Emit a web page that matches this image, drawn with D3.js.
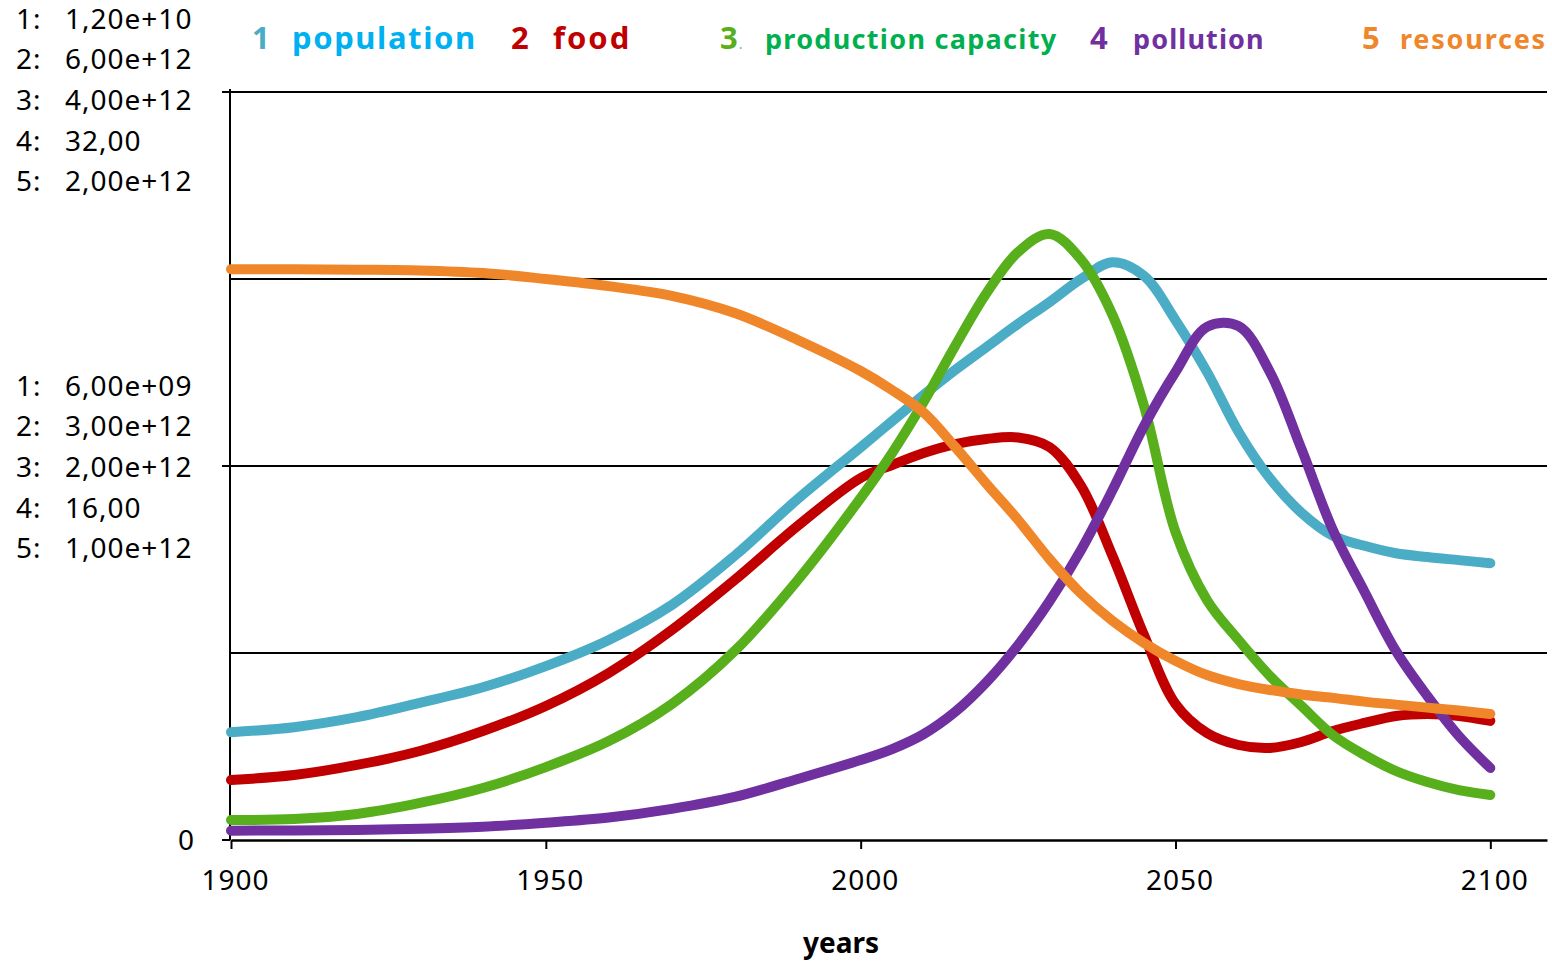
<!DOCTYPE html>
<html>
<head>
<meta charset="utf-8">
<script src="https://cdn.jsdelivr.net/npm/d3@7"></script>
<style>
  body { margin: 0; background: #fff; }
  svg { display: block; }
  text { font-family: "Noto Sans", sans-serif; }
</style>
</head>
<body>
<svg id="chart" width="1552" height="962"></svg>
<script>
// Simulation output, 1900–2100
const years = [1900,1910,1920,1930,1940,1950,1960,1970,1980,1990,2000,
  2005,2010,2015,2020,2025,2030,2035,2040,2045,2050,
  2055,2060,2065,2070,2075,2080,2085,2090,2095,2100];

// 1: population (persons)
const population = [1.73e9,1.81e9,1.97e9,2.20e9,2.45e9,2.79e9,3.21e9,3.77e9,4.56e9,5.47e9,6.30e9,
  6.72e9,7.14e9,7.54e9,7.91e9,8.28e9,8.63e9,9.00e9,9.27e9,9.05e9,8.34e9,
  7.51e9,6.55e9,5.80e9,5.25e9,4.88e9,4.72e9,4.60e9,4.54e9,4.49e9,4.44e9];
// 2: food
const food = [0.481e12,0.521e12,0.602e12,0.714e12,0.874e12,1.075e12,1.340e12,1.684e12,2.086e12,2.519e12,2.904e12,
  3.008e12,3.104e12,3.176e12,3.217e12,3.229e12,3.152e12,2.840e12,2.278e12,1.644e12,1.091e12,
  0.858e12,0.762e12,0.738e12,0.786e12,0.874e12,0.939e12,0.995e12,1.011e12,0.995e12,0.955e12];
// 3: production capacity
const production = [0.107e12,0.112e12,0.139e12,0.198e12,0.278e12,0.390e12,0.529e12,0.727e12,1.011e12,1.390e12,1.829e12,
  2.070e12,2.342e12,2.642e12,2.925e12,3.144e12,3.241e12,3.104e12,2.807e12,2.321e12,1.647e12,
  1.283e12,1.070e12,0.877e12,0.717e12,0.561e12,0.455e12,0.369e12,0.310e12,0.267e12,0.241e12];
// 4: pollution
const pollution = [0.40,0.41,0.43,0.48,0.57,0.74,0.96,1.33,1.84,2.61,3.42,
  3.89,4.53,5.48,6.76,8.34,10.22,12.41,14.97,17.71,20.02,
  21.95,21.99,20.02,16.73,13.26,10.63,8.09,6.16,4.45,3.08];
// 5: resources
const resources = [1.526e12,1.526e12,1.525e12,1.523e12,1.516e12,1.500e12,1.481e12,1.455e12,1.409e12,1.337e12,1.254e12,
  1.203e12,1.143e12,1.051e12,0.952e12,0.856e12,0.751e12,0.659e12,0.586e12,0.527e12,0.479e12,
  0.441e12,0.417e12,0.401e12,0.389e12,0.380e12,0.370e12,0.362e12,0.354e12,0.346e12,0.337e12];

const seriesNames = ["population", "food", "production capacity", "pollution", "resources"];
const seriesMax = [1.2e10, 6e12, 4e12, 32, 2e12];
const xTickYears = [1900, 1950, 2000, 2050, 2100];
const xLabel = "years";

const seriesValues = [population, food, production, pollution, resources];
const lineColors = ["#4BACC6", "#C00000", "#57AF1C", "#7030A0", "#F0862A"];
const numColors  = ["#4BACC6", "#C00000", "#57AF1C", "#7030A0", "#F0862A"];
const nameColors = ["#00B0F0", "#C00000", "#00B050", "#7030A0", "#F0862A"];

const svg = d3.select("#chart");
const plot = { left: 230, right: 1547, top: 92, bottom: 840 };

const x = d3.scaleLinear().domain([1900, 2109]).range([231, plot.right]);
const yFrac = d3.scaleLinear().domain([0, 1]).range([plot.bottom, plot.top]);
const yScales = seriesMax.map(m => d3.scaleLinear().domain([0, m]).range([plot.bottom, plot.top]));

// horizontal grid lines at quarters
svg.append("g").selectAll("line")
  .data([0.25, 0.5, 0.75, 1])
  .join("line")
  .attr("x1", plot.left).attr("x2", plot.right)
  .attr("y1", d => yFrac(d)).attr("y2", d => yFrac(d))
  .attr("stroke", "#000").attr("stroke-width", 2);

// left axis line with major ticks at 0, 1/2, 1
svg.append("line")
  .attr("x1", plot.left).attr("x2", plot.left)
  .attr("y1", plot.top - 3).attr("y2", plot.bottom)
  .attr("stroke", "#000").attr("stroke-width", 2);
svg.append("g").selectAll("line")
  .data([0, 0.5, 1])
  .join("line")
  .attr("x1", plot.left - 8).attr("x2", plot.left)
  .attr("y1", d => yFrac(d)).attr("y2", d => yFrac(d))
  .attr("stroke", "#000").attr("stroke-width", 2);

// bottom axis
const xAxis = d3.axisBottom(x).tickValues(xTickYears).tickSize(9).tickSizeOuter(0).tickFormat(d3.format("d"));
const gx = svg.append("g").attr("transform", `translate(0,${plot.bottom})`).call(xAxis);
gx.select(".domain").attr("stroke", "#000").attr("stroke-width", 2.5);
gx.selectAll(".tick line").attr("stroke", "#000").attr("stroke-width", 2);
gx.selectAll(".tick text")
  .attr("y", 50).attr("dy", 0).attr("dx", 4)
  .attr("fill", "#000")
  .style("font-family", "'Noto Sans', sans-serif")
  .style("font-size", "28px")
  .style("letter-spacing", "1px");

svg.append("text")
  .attr("x", 841).attr("y", 953)
  .attr("text-anchor", "middle")
  .style("font-size", "28px").style("font-weight", 700)
  .text(xLabel);

// left value labels: one block per major tick
function fmtVal(v) {
  if (Math.abs(v) < 1000) return d3.format(".2f")(v).replace(".", ",");
  const [m, e] = d3.format(".2e")(v).split("e");
  const sign = e[0];
  const exp = e.slice(1).padStart(2, "0");
  return m.replace(".", ",") + "e" + sign + exp;
}
const blockShift = { 1: 8, 0.5: 1 };
[1, 0.5].forEach(frac => {
  const yc = yFrac(frac) + blockShift[frac];
  seriesMax.forEach((m, i) => {
    const yy = yc + (i - 2) * 40.6 + 10;
    const t = svg.append("text").attr("y", yy)
      .style("font-size", "28px").style("letter-spacing", "1px").attr("fill", "#000");
    t.append("tspan").attr("x", 16).text(`${i + 1}:`);
    t.append("tspan").attr("x", 65).text(fmtVal(m * frac));
  });
});
svg.append("text")
  .attr("x", 186).attr("y", yFrac(0) + 10)
  .attr("text-anchor", "middle")
  .style("font-size", "28px").text("0");

// series lines
const line = i => d3.line()
  .x((d, k) => x(years[k]))
  .y(d => yScales[i](d))
  .curve(d3.curveCatmullRom.alpha(0.5));

svg.append("g").selectAll("path")
  .data(seriesValues)
  .join("path")
  .attr("d", (vals, i) => line(i)(vals))
  .attr("fill", "none")
  .attr("stroke", (d, i) => lineColors[i])
  .attr("stroke-width", 10)
  .attr("stroke-linecap", "round")
  .attr("stroke-linejoin", "round");

// legend across the top
const legendPos = [
  { num: 252, name: 292, spacing: 1.6, size: 31 },
  { num: 511, name: 553, spacing: 2, size: 31 },
  { num: 720, name: 765, spacing: 1.3, size: 27 },
  { num: 1090, name: 1133, spacing: 1.1, size: 27 },
  { num: 1362, name: 1400, spacing: 1.8, size: 27 }
];
seriesNames.forEach((name, i) => {
  const p = legendPos[i];
  const g = svg.append("g").style("font-family", "'Open Sans', sans-serif").style("font-weight", 700);
  g.append("text").attr("x", p.num).attr("y", 49)
    .attr("fill", numColors[i]).style("font-size", "31px")
    .text(String(i + 1));
  if (i === 2) {
    g.append("text").attr("x", p.num + 19).attr("y", 49)
      .attr("fill", "#8CCB6A").style("font-size", "12px").text(".");
  }
  g.append("text").attr("x", p.name).attr("y", 49)
    .attr("fill", nameColors[i]).style("font-size", p.size + "px")
    .style("letter-spacing", p.spacing + "px")
    .text(name);
});
</script>
</body>
</html>
